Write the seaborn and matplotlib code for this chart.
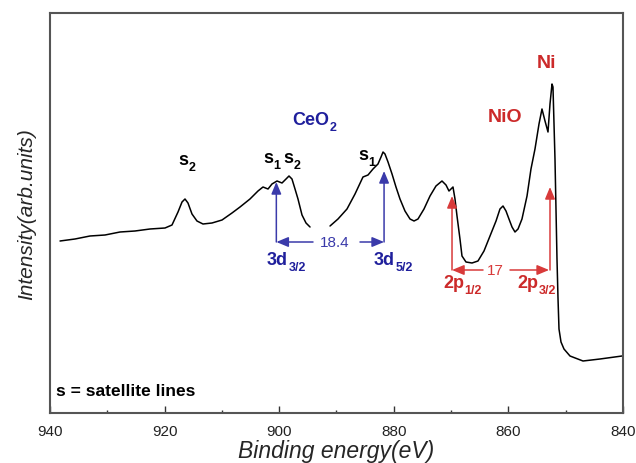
import numpy as np
import pandas as pd
import matplotlib
matplotlib.use("Agg")
import matplotlib.pyplot as plt
import seaborn as sns
from matplotlib.ticker import MultipleLocator

# ---- data ----
energy_a = [938.25, 935.64, 933.02, 930.40, 927.78, 925.17, 922.55, 919.93, 918.71, 917.66,
            916.96, 916.44, 915.92, 915.22, 914.35, 913.30, 911.73, 909.98, 908.24, 906.84,
            905.10, 903.70, 902.83, 901.95, 901.26, 900.38, 899.51, 898.81, 898.29, 897.77,
            897.24, 896.72, 896.02, 895.32, 894.62]
intensity_a = [172, 174, 177, 178, 181, 182, 184, 185, 188, 201,
               211, 214, 210, 199, 192, 189, 190, 193, 200, 206,
               214, 222, 226, 224, 229, 232, 230, 234, 237, 234,
               224, 214, 198, 190, 186]

energy_b = [891.13, 889.74, 888.17, 886.77, 885.38, 884.50, 883.63, 882.76, 882.23, 881.88,
            881.54, 881.01, 880.31, 879.62, 878.92, 878.05, 877.17, 876.47, 875.78, 874.73,
            873.68, 872.64, 871.59, 870.89, 870.37, 869.67, 869.32, 868.97, 868.45, 868.10,
            867.40, 866.35, 865.31, 864.26, 863.21, 862.16, 861.47, 860.94, 860.42, 859.90,
            859.37, 858.85, 858.32, 857.63, 856.75, 856.06, 855.36, 854.66, 854.14, 853.61,
            853.09, 852.74, 852.39, 852.22, 851.87, 851.52, 851.34, 851.17, 850.82, 850.30,
            849.25, 846.98, 844.01, 840.17]
intensity_b = [187, 194, 204, 219, 236, 238, 244, 249, 256, 261,
               259, 251, 239, 226, 214, 202, 194, 192, 194, 204,
               217, 227, 232, 228, 222, 226, 214, 197, 174, 157,
               151, 150, 152, 162, 177, 192, 204, 207, 202, 194,
               186, 181, 184, 194, 217, 244, 264, 289, 304, 292,
               281, 309, 329, 326, 254, 154, 114, 84, 71, 64,
               57, 52, 54, 57]

x_ticks = [940, 920, 900, 880, 860, 840]

df = pd.concat([
    pd.DataFrame({"energy": energy_a, "intensity": intensity_a, "segment": "a"}),
    pd.DataFrame({"energy": energy_b, "intensity": intensity_b, "segment": "b"}),
], ignore_index=True)

# ---- style ----
sns.set_theme(style="white")
plt.rcParams["font.family"] = ["Liberation Sans", "DejaVu Sans"]

BLUE = "#1f1f9c"
BLUE_L = "#3a3aaa"
RED = "#cc2a2a"
RED_L = "#d83a3a"

fig = plt.figure(figsize=(6.36, 4.64), dpi=100)
ax = fig.add_axes([50 / 636, 1 - 414 / 464, (623 - 50) / 636, (414 - 13.5) / 464])

sns.lineplot(data=df, x="energy", y="intensity", units="segment", estimator=None,
             color="black", linewidth=1.1, ax=ax, legend=False)

ax.set_xlim(940, 840)
ax.set_ylim(0, 400.5)
ax.set_xticks(x_ticks)
ax.set_xticklabels([str(t) for t in x_ticks])
ax.xaxis.set_minor_locator(MultipleLocator(10))
ax.set_yticks([])
ax.tick_params(axis="x", which="major", direction="in", length=5, width=1,
               color="#333333", labelsize=11, labelcolor="#222222", pad=8,
               bottom=True, top=False)
ax.tick_params(axis="x", which="minor", direction="in", length=2.5, width=1,
               color="#333333", bottom=True, top=False)
for sp in ax.spines.values():
    sp.set_color("#555555")
    sp.set_linewidth(1.5)
    sp.set_visible(True)

ax.set_xlabel("Binding energy(eV)", fontsize=16.5, fontstyle="italic", labelpad=1)
ax.set_ylabel("Intensity(arb.units)", fontsize=15, fontstyle="italic", labelpad=10)

# ---- annotations ----
def lab(x, y, s, sub=None, color="black", size=13, subsize=9):
    t = ax.text(x, y, s, color=color, fontsize=size, fontweight="bold",
                ha="left", va="baseline")
    if sub:
        ax.annotate(sub, xy=(1, 0), xycoords=t, xytext=(0.3, -3.5),
                    textcoords="offset points", color=color, fontsize=subsize,
                    fontweight="bold", ha="left", va="bottom")
    return t

lab(917.66, 249, "s", "2")
lab(902.83, 251, "s", "1")
lab(899.34, 251, "s", "2")
lab(886.25, 254, "s", "1")
lab(897.77, 289, "CeO", "2", color=BLUE)
lab(863.56, 292, "NiO", color=RED, size=14)
lab(855.0, 346, "Ni", color=RED, size=14)
lab(902.13, 149, "3d", "3/2", color=BLUE)
lab(883.46, 149, "3d", "5/2", color=BLUE)
lab(871.41, 126, "2p", "1/2", color=RED)
lab(858.50, 126, "2p", "3/2", color=RED)
ax.text(890.26, 171, "18.4", color=BLUE_L, fontsize=11, ha="center", va="center")
ax.text(862.34, 143, "17", color=RED_L, fontsize=11, ha="center", va="center")
ax.text(939.0, 18, "s = satellite lines", color="black", fontsize=12.5, fontweight="bold",
        family=["Liberation Sans Narrow", "Liberation Sans"], ha="left", va="baseline")

def arrow(x0, y0, x1, y1, color):
    ax.annotate("", xy=(x1, y1), xytext=(x0, y0),
                arrowprops=dict(arrowstyle="-|>,head_length=0.6,head_width=0.25",
                                color=color, lw=1.1, shrinkA=0, shrinkB=0,
                                mutation_scale=12))

# blue CeO2 markers
arrow(900.5, 171, 900.5, 231, BLUE_L)
arrow(894.1, 171, 900.5, 171, BLUE_L)
arrow(881.7, 171, 881.7, 242, BLUE_L)
arrow(885.9, 171, 881.7, 171, BLUE_L)
# red Ni markers
arrow(869.84, 143, 869.84, 217, RED_L)
arrow(864.43, 143, 869.84, 143, RED_L)
arrow(852.74, 143, 852.74, 226, RED_L)
arrow(859.72, 143, 852.9, 143, RED_L)

fig.savefig("out.png", dpi=100)
